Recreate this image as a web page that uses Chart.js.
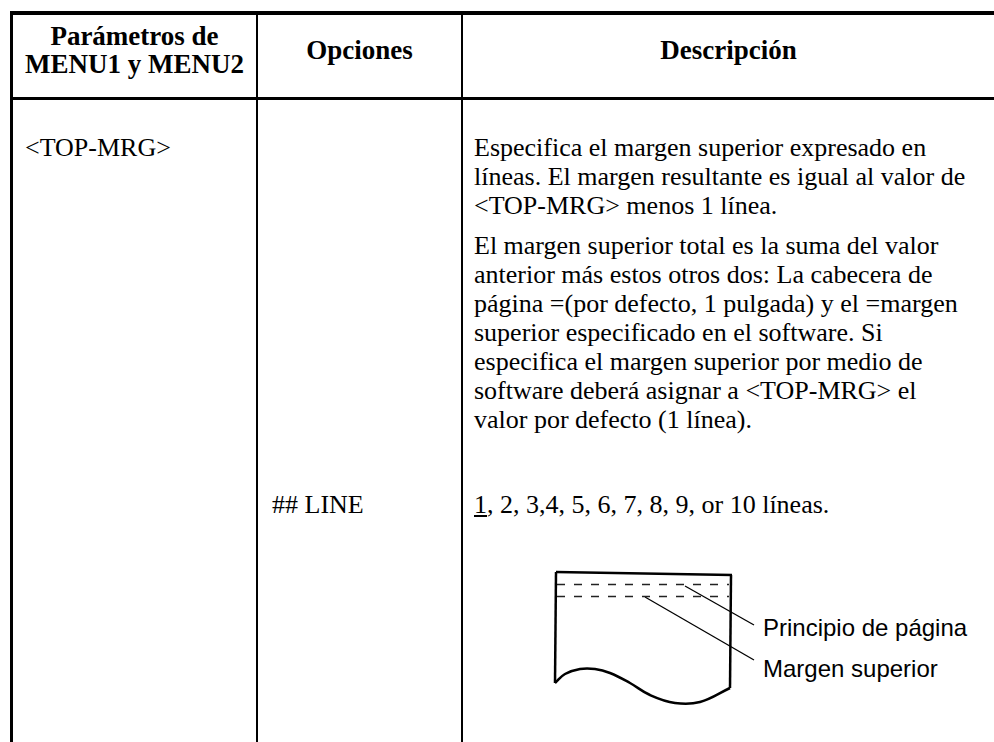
<!DOCTYPE html>
<html>
<head>
<meta charset="utf-8">
<script src="https://cdn.jsdelivr.net/npm/chart.js@4"></script>
<style>
  html, body { margin:0; padding:0; background:#fff; }
  #hoja { position:relative; width:994px; height:742px; overflow:hidden; font-family:"Liberation Serif","Times New Roman",serif; color:#000; }
  .linea { position:absolute; background:#000; }
  .txt { position:absolute; font-size:26px; line-height:29px; white-space:nowrap; }
  .cab { position:absolute; top:14px; height:72px; display:flex; align-items:center; justify-content:center; text-align:center; font-weight:bold; font-size:27px; line-height:28px; }
  .etiqueta { position:absolute; font-family:"Liberation Sans",Arial,sans-serif; font-size:24px; line-height:28px; white-space:nowrap; }
  #dibujo { position:absolute; left:540px; top:560px; }
</style>
</head>
<body>
<div id="hoja">
  <!-- bordes de la tabla -->
  <div class="linea" style="left:10px;top:11px;width:984px;height:4px;"></div>
  <div class="linea" style="left:10px;top:11px;width:3px;height:731px;"></div>
  <div class="linea" style="left:10px;top:97px;width:984px;height:3px;"></div>
  <div class="linea" style="left:256px;top:11px;width:2px;height:731px;"></div>
  <div class="linea" style="left:461px;top:11px;width:2px;height:731px;"></div>

  <!-- cabecera -->
  <div class="cab" style="left:13px;width:243px;">Parámetros de<br>MENU1 y MENU2</div>
  <div class="cab" style="left:258px;width:203px;">Opciones</div>
  <div class="cab" style="left:463px;width:531px;">Descripción</div>

  <!-- fila -->
  <div class="txt" style="left:25px;top:133px;">&lt;TOP-MRG&gt;</div>
  <div class="txt" style="left:474px;top:133px;">Especifica el margen superior expresado en<br>líneas. El margen resultante es igual al valor de<br>&lt;TOP-MRG&gt; menos 1 línea.</div>
  <div class="txt" style="left:474px;top:231px;">El margen superior total es la suma del valor<br>anterior más estos otros dos: La cabecera de<br>página =(por defecto, 1 pulgada) y el =margen<br>superior especificado en el software. Si<br>especifica el margen superior por medio de<br>software deberá asignar a &lt;TOP-MRG&gt; el<br>valor por defecto (1 línea).</div>
  <div class="txt" style="left:272px;top:490px;">## LINE</div>
  <div class="txt" style="left:474px;top:490px;"><u>1</u>, 2, 3,4, 5, 6, 7, 8, 9, or 10 líneas.</div>

  <canvas id="dibujo" width="220" height="160"></canvas>
  <div class="etiqueta" style="left:763px;top:614px;">Principio de página</div>
  <div class="etiqueta" style="left:763px;top:655px;">Margen superior</div>
</div>

<script>
// contorno de la hoja (unidades del dibujo, y hacia abajo)
const bordeSup   = [{x:16,y:12},{x:192,y:15}];
const bordeDer   = [{x:191,y:15},{x:190,y:128}];
const bordeIzq   = [{x:16,y:12},{x:15,y:123}];
const ondaInf    = [{x:15,y:123},{x:25,y:114},{x:40,y:109},{x:55,y:109},{x:70,y:113},{x:90,y:123},{x:110,y:135},{x:135,y:143},{x:160,y:142},{x:190,y:128}];
const lineaPrinc = [{x:17,y:24.5},{x:189,y:24.5}];
const lineaMarg  = [{x:17,y:36.5},{x:189,y:36.5}];
const guiaPrinc  = [{x:145,y:26},{x:214,y:65}];
const guiaMarg   = [{x:105,y:37},{x:214,y:100}];

function trazo(data, ancho, extra) {
  return Object.assign({ data, showLine:true, borderColor:"#000", borderWidth:ancho, pointRadius:0, fill:false, clip:false }, extra || {});
}

new Chart(document.getElementById("dibujo"), {
  type: "scatter",
  data: {
    datasets: [
      trazo(bordeSup, 2.5),
      trazo(bordeDer, 2.5),
      trazo(bordeIzq, 2.5),
      trazo(ondaInf, 2.5, { tension:0.4 }),
      trazo(lineaPrinc, 1.5, { borderDash:[8,9], borderColor:"#222" }),
      trazo(lineaMarg, 1.5, { borderDash:[8,9], borderColor:"#222" }),
      trazo(guiaPrinc, 1.3),
      trazo(guiaMarg, 1.3)
    ]
  },
  options: {
    responsive: false,
    animation: false,
    layout: { padding: 0 },
    plugins: { legend:{ display:false }, tooltip:{ enabled:false } },
    scales: {
      x: { type:"linear", min:0, max:220, display:false },
      y: { type:"linear", min:0, max:160, reverse:true, display:false }
    }
  }
});
</script>
</body>
</html>
